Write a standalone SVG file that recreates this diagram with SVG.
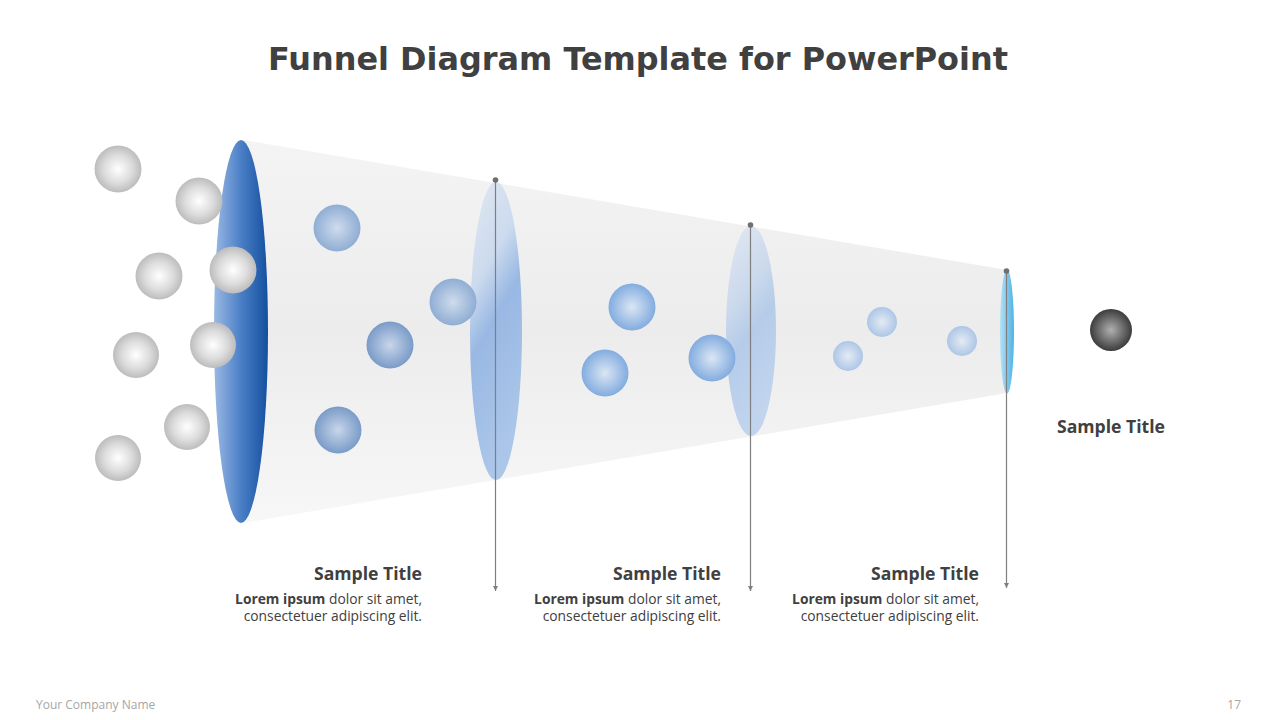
<svg xmlns="http://www.w3.org/2000/svg" width="1280" height="720" viewBox="0 0 1280 720">
<style>
.title{font-family:"DejaVu Sans",Verdana,sans-serif;font-weight:bold;font-size:31.9px;fill:#404040}
.st{font-family:"Open Sans","Noto Sans",sans-serif;font-weight:bold;font-size:17.6px;fill:#404040}
.body{font-family:"Open Sans","Noto Sans",sans-serif;font-size:13.8px;fill:#404040}
.body tspan.b{font-weight:bold}
.foot{font-family:"Open Sans","Noto Sans",sans-serif;font-size:12px;fill:#a6a6a6}
.conn{stroke:#7f7f7f;stroke-width:1.2;fill:none}
</style>
<defs>
<linearGradient id="funnelG" x1="0" y1="0" x2="0" y2="1">
<stop offset="0" stop-color="#f4f4f4"/>
<stop offset="0.5" stop-color="#ececec"/>
<stop offset="1" stop-color="#f7f7f7"/>
</linearGradient>
<linearGradient id="e1G" x1="0" y1="0" x2="1" y2="0">
<stop offset="0" stop-color="#9bb9e4"/>
<stop offset="0.5" stop-color="#4a7fc6"/>
<stop offset="1" stop-color="#154f9e"/>
</linearGradient>
<linearGradient id="e2G" x1="0" y1="0" x2="0.3" y2="1">
<stop offset="0" stop-color="#dfe7f2"/>
<stop offset="0.35" stop-color="#c8d8ee"/>
<stop offset="0.55" stop-color="#8fb2e2"/>
<stop offset="1" stop-color="#a3c1e8"/>
</linearGradient>
<linearGradient id="e3G" x1="0" y1="0" x2="0.3" y2="1">
<stop offset="0" stop-color="#e1e8f2"/>
<stop offset="0.4" stop-color="#c6d6ec"/>
<stop offset="0.6" stop-color="#afc8e8"/>
<stop offset="1" stop-color="#bcd1ee"/>
</linearGradient>
<linearGradient id="e4G" x1="0" y1="0" x2="1" y2="0">
<stop offset="0" stop-color="#b6e0f6"/>
<stop offset="1" stop-color="#4eb3e4"/>
</linearGradient>
<radialGradient id="grayS" cx="0.5" cy="0.5" r="0.5">
<stop offset="0" stop-color="#ffffff"/>
<stop offset="0.6" stop-color="#dcdcdc"/>
<stop offset="1" stop-color="#bcbcbc"/>
</radialGradient>
<radialGradient id="blueA" cx="0.5" cy="0.5" r="0.5">
<stop offset="0" stop-color="#cfdcec"/>
<stop offset="1" stop-color="#8fadd4"/>
</radialGradient>
<radialGradient id="blueB" cx="0.5" cy="0.5" r="0.5">
<stop offset="0" stop-color="#c8d6ea"/>
<stop offset="1" stop-color="#7a9bc8"/>
</radialGradient>
<radialGradient id="blueC" cx="0.5" cy="0.5" r="0.5">
<stop offset="0" stop-color="#dbe6f4"/>
<stop offset="1" stop-color="#82acdf"/>
</radialGradient>
<radialGradient id="blueD" cx="0.5" cy="0.5" r="0.5">
<stop offset="0" stop-color="#e4ebf4"/>
<stop offset="1" stop-color="#adc6e6"/>
</radialGradient>
<radialGradient id="darkS" cx="0.5" cy="0.5" r="0.5">
<stop offset="0" stop-color="#b0b0b0"/>
<stop offset="1" stop-color="#3c3c3c"/>
</radialGradient>
<marker id="arr" viewBox="0 0 10 10" refX="10" refY="5" markerWidth="6" markerHeight="5" orient="auto" markerUnits="userSpaceOnUse">
<path d="M0,0 L10,5 L0,10 Z" fill="#7f7f7f"/>
</marker>
</defs>
<rect width="1280" height="720" fill="#ffffff"/>

<text class="title" x="638" y="70" text-anchor="middle">Funnel Diagram Template for PowerPoint</text>

<g id="funnel">
<path d="M243,140 L1007,270 L1007,393 L243,523 Z" fill="url(#funnelG)"/>
<ellipse cx="241" cy="331.5" rx="27" ry="191.5" fill="url(#e1G)"/>
<ellipse cx="496" cy="331" rx="26" ry="149" fill="url(#e2G)" opacity="0.9"/>
<ellipse cx="751" cy="331" rx="25" ry="105" fill="url(#e3G)" opacity="0.9"/>
<ellipse cx="1007" cy="331.5" rx="7" ry="62" fill="url(#e4G)"/>
</g>

<g id="input-spheres">
<circle cx="118" cy="169" r="23.5" fill="url(#grayS)"/>
<circle cx="199" cy="201" r="23.5" fill="url(#grayS)"/>
<circle cx="159" cy="276" r="23.5" fill="url(#grayS)"/>
<circle cx="233" cy="270" r="23.5" fill="url(#grayS)"/>
<circle cx="136" cy="355" r="23" fill="url(#grayS)"/>
<circle cx="213" cy="345" r="23" fill="url(#grayS)"/>
<circle cx="187" cy="427" r="23" fill="url(#grayS)"/>
<circle cx="118" cy="458" r="23" fill="url(#grayS)"/>
</g>

<g id="stage1-spheres">
<circle cx="337" cy="228" r="23.5" fill="url(#blueA)"/>
<circle cx="453" cy="302" r="23.5" fill="url(#blueA)"/>
<circle cx="390" cy="345" r="23.5" fill="url(#blueB)"/>
<circle cx="338" cy="430" r="23.5" fill="url(#blueB)"/>
</g>

<g id="stage2-spheres">
<circle cx="632" cy="307" r="23.5" fill="url(#blueC)"/>
<circle cx="605" cy="373" r="23.5" fill="url(#blueC)"/>
<circle cx="712" cy="358" r="23.5" fill="url(#blueC)"/>
</g>

<g id="stage3-spheres">
<circle cx="882" cy="322" r="15" fill="url(#blueD)"/>
<circle cx="848" cy="356" r="15" fill="url(#blueD)"/>
<circle cx="962" cy="341" r="15" fill="url(#blueD)"/>
</g>

<g id="output-sphere">
<circle cx="1111" cy="330" r="21" fill="url(#darkS)"/>
</g>

<g id="connectors">
<line class="conn" x1="495.5" y1="180" x2="495.5" y2="591" marker-end="url(#arr)"/>
<line class="conn" x1="750.5" y1="225" x2="750.5" y2="591" marker-end="url(#arr)"/>
<line class="conn" x1="1006.5" y1="271" x2="1006.5" y2="588" marker-end="url(#arr)"/>
<circle cx="495.5" cy="180" r="2.8" fill="#6f6f6f"/>
<circle cx="750.5" cy="225" r="2.8" fill="#6f6f6f"/>
<circle cx="1006.5" cy="271" r="2.8" fill="#6f6f6f"/>
</g>

<g id="label1">
<text class="st" x="422" y="580" text-anchor="end">Sample Title</text>
<text class="body" x="422" y="604" text-anchor="end"><tspan class="b">Lorem ipsum</tspan> dolor sit amet,</text>
<text class="body" x="422" y="621" text-anchor="end">consectetuer adipiscing elit.</text>
</g>
<g id="label2">
<text class="st" x="721" y="580" text-anchor="end">Sample Title</text>
<text class="body" x="721" y="604" text-anchor="end"><tspan class="b">Lorem ipsum</tspan> dolor sit amet,</text>
<text class="body" x="721" y="621" text-anchor="end">consectetuer adipiscing elit.</text>
</g>
<g id="label3">
<text class="st" x="979" y="580" text-anchor="end">Sample Title</text>
<text class="body" x="979" y="604" text-anchor="end"><tspan class="b">Lorem ipsum</tspan> dolor sit amet,</text>
<text class="body" x="979" y="621" text-anchor="end">consectetuer adipiscing elit.</text>
</g>
<g id="label4">
<text class="st" x="1057" y="433">Sample Title</text>
</g>

<text class="foot" x="36" y="709">Your Company  Name</text>
<text class="foot" x="1241" y="709" text-anchor="end">17</text>
</svg>
